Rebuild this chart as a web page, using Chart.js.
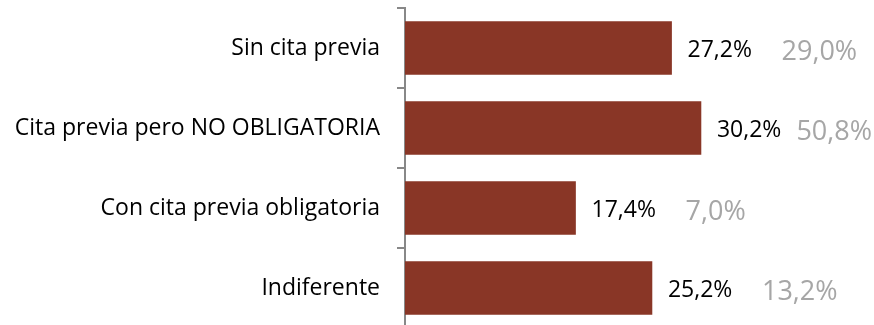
<!DOCTYPE html>
<html>
<head>
<meta charset="utf-8">
<script src="https://cdn.jsdelivr.net/npm/chart.js@4/dist/chart.umd.min.js"></script>
<style>
  html, body { margin: 0; padding: 0; background: #fff; overflow: hidden; }
  #wrap { width: 874px; height: 328px; position: relative; }
</style>
</head>
<body>
<div id="wrap"><canvas id="c" width="874" height="328"></canvas></div>
<script>
const categories = ["Sin cita previa", "Cita previa pero NO OBLIGATORIA", "Con cita previa obligatoria", "Indiferente"];
const barValues = [27.2, 30.2, 17.4, 25.2];
const compareValues = [29.0, 50.8, 7.0, 13.2];

const fmt = v => v.toFixed(1).replace('.', ',') + '%';

const labelPlugin = {
  id: 'valueLabels',
  afterDatasetsDraw(chart) {
    const ctx = chart.ctx;
    const meta = chart.getDatasetMeta(0);
    ctx.save();
    ctx.textBaseline = 'middle';
    ctx.textAlign = 'left';
    meta.data.forEach((bar, i) => {
      const xEnd = bar.x;
      const y = bar.y + 2;
      ctx.font = '23px "Open Sans"';
      ctx.fillStyle = '#000000';
      ctx.fillText(fmt(barValues[i]), xEnd + 16, y);
      ctx.font = '27px "Open Sans"';
      ctx.fillStyle = '#A6A6A6';
      const t = fmt(compareValues[i]);
      const w = ctx.measureText(t).width;
      let gx = xEnd + 110;
      if (gx + w > chart.width - 2) gx = chart.width - 2 - w;
      ctx.fillText(t, gx, y + 2);
    });
    ctx.restore();
  }
};

new Chart(document.getElementById('c'), {
  type: 'bar',
  data: {
    labels: categories,
    datasets: [{
      data: barValues,
      backgroundColor: '#893626',
      borderWidth: 0,
      barThickness: 53
    }]
  },
  options: {
    indexAxis: 'y',
    responsive: false,
    animation: false,
    devicePixelRatio: 1,
    layout: { padding: { top: 8, bottom: 0, left: 0, right: 28 } },
    plugins: { legend: { display: false }, tooltip: { enabled: false } },
    scales: {
      x: {
        display: false,
        min: 0,
        max: 45
      },
      y: {
        afterFit(scale) {
          scale.width = 405;
          scale.paddingTop = 0;
          scale.paddingBottom = 0;
        },
        offset: true,
        grid: {
          offset: true,
          drawOnChartArea: false,
          drawTicks: true,
          tickLength: 8,
          color: '#888888',
          lineWidth: 2
        },
        border: { display: true, color: '#888888', width: 2 },
        ticks: {
          padding: 17,
          color: '#000000',
          font: { family: '"Open Sans"', size: 23 }
        }
      }
    }
  },
  plugins: [labelPlugin]
});
</script>
</body>
</html>
